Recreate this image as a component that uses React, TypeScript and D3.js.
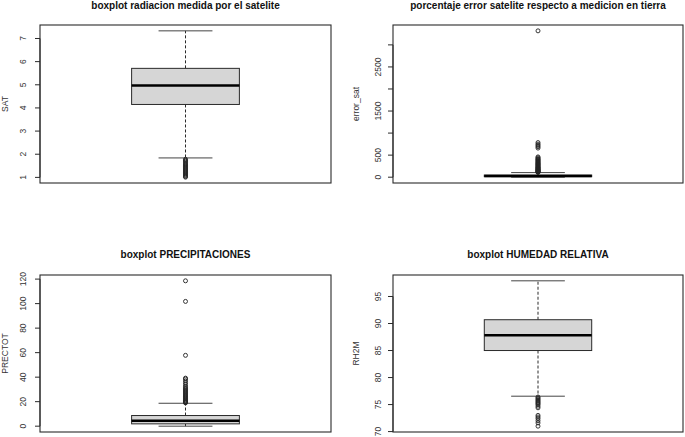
import React from "react";
import * as d3 from "d3";

// ---- data ----
// stats: [lower whisker, Q1, median, Q3, upper whisker]
const titles = [
  "boxplot radiacion medida por el satelite",
  "porcentaje error satelite respecto a medicion en tierra",
  "boxplot PRECIPITACIONES",
  "boxplot HUMEDAD RELATIVA",
];
const yLabels = ["SAT", "error_sat", "PRECTOT", "RH2M"];

const satStats = [1.84, 4.15, 4.97, 5.71, 7.33];
const satOutliers = [1.78, 1.74, 1.7, 1.65, 1.6, 1.56, 1.52, 1.48, 1.44, 1.4, 1.36, 1.32, 1.28, 1.24, 1.2, 1.16, 1.12, 1.08, 1.04, 1.01];
const satTicks = [1, 2, 3, 4, 5, 6, 7];
const satTickLabels = ["1", "2", "3", "4", "5", "6", "7"];

const errStats = [1, 12, 28, 48, 104];
const errOutliers = [108, 115, 122, 130, 138, 146, 155, 164, 172, 180, 190, 200, 210, 220, 230, 242, 255, 268, 280, 292, 305, 318, 330, 345, 360, 375, 390, 405, 420, 440, 460, 660, 690, 720, 750, 785, 3318];
const errTicks = [0, 500, 1000, 1500, 2000, 2500, 3000];
const errTickLabels = ["0", "500", "", "1500", "", "2500", ""];

const preStats = [0, 1.9, 4.4, 8.7, 18.7];
const preOutliers = [19, 19.5, 20, 20.6, 21.2, 22, 22.8, 23.5, 24.3, 25, 25.8, 26.6, 27.4, 28.2, 29, 29.8, 30.6, 31.5, 32.5, 34, 35.5, 37, 38.5, 39.2, 57.8, 101.8, 118.6];
const preTicks = [0, 20, 40, 60, 80, 100, 120];
const preTickLabels = ["0", "20", "40", "60", "80", "100", "120"];

const rhStats = [76.55, 85.0, 87.85, 90.7, 97.9];
const rhOutliers = [76.4, 76.2, 76.0, 75.8, 75.6, 75.4, 75.2, 75.0, 74.7, 74.4, 73.0, 72.7, 72.4, 72.0, 71.6, 71.0];
const rhTicks = [70, 75, 80, 85, 90, 95];
const rhTickLabels = ["70", "75", "80", "85", "90", "95"];

const allStats = [satStats, errStats, preStats, rhStats];
const allOutliers = [satOutliers, errOutliers, preOutliers, rhOutliers];
const allTicks = [satTicks, errTicks, preTicks, rhTicks];
const allTickLabels = [satTickLabels, errTickLabels, preTickLabels, rhTickLabels];

// ---- layout ----
const W = 685;
const H = 437;
const colsX = [[40, 331], [393, 683]];
const rowsY = [[25, 183], [275, 432]];
const titleY = [8.5, 258];
const labelX = [5, 356];
const tickLabelX = [23, 378.5];
const FONT = "'Liberation Sans', Arial, Helvetica, sans-serif";

function Panel({ i }: { i: number }) {
  const col = i % 2;
  const row = Math.floor(i / 2);
  const [x0, x1] = colsX[col];
  const [y0, y1] = rowsY[row];
  const stats = allStats[i];
  const outs = allOutliers[i];
  const ticks = allTicks[i];
  const tickLabels = allTickLabels[i];

  const ext = d3.extent([...stats, ...outs]) as [number, number];
  const pad = (ext[1] - ext[0]) * 0.04;
  const y = d3.scaleLinear().domain([ext[0] - pad, ext[1] + pad]).range([y1, y0]);
  const x = d3.scaleLinear().domain([0.46, 1.54]).range([x0, x1]);

  const [lw, q1, med, q3, uw] = stats;
  const cx = x(1);
  const stroke = "#2a2a2a";

  return (
    <g>
      <text
        x={(x0 + x1) / 2}
        y={titleY[row]}
        textAnchor="middle"
        fontFamily={FONT}
        fontWeight="bold"
        fontSize={10}
        fill="#111"
      >
        {titles[i]}
      </text>
      {/* y axis label */}
      <text
        transform={`translate(${labelX[col]},${(y0 + y1) / 2}) rotate(-90)`}
        dy="0.35em"
        textAnchor="middle"
        fontFamily={FONT}
        fontSize={8.5}
        fill="#333"
      >
        {yLabels[i]}
      </text>
      {/* axis */}
      <line
        x1={x0}
        x2={x0}
        y1={y(ticks[0])}
        y2={y(ticks[ticks.length - 1])}
        stroke={stroke}
        strokeWidth={1}
      />
      {ticks.map((t, k) => (
        <g key={k}>
          <line x1={x0 - 5} x2={x0} y1={y(t)} y2={y(t)} stroke={stroke} strokeWidth={1} />
          {tickLabels[k] !== "" && (
            <text
              transform={`translate(${tickLabelX[col]},${y(t)}) rotate(-90)`}
              dy="0.35em"
              textAnchor="middle"
              fontFamily={FONT}
              fontSize={8.5}
              fill="#333"
            >
              {tickLabels[k]}
            </text>
          )}
        </g>
      ))}
      {/* whiskers */}
      <line x1={cx} x2={cx} y1={y(q3)} y2={y(uw)} stroke={stroke} strokeWidth={1} strokeDasharray="3,2" />
      <line x1={cx} x2={cx} y1={y(q1)} y2={y(lw)} stroke={stroke} strokeWidth={1} strokeDasharray="3,2" />
      <line x1={x(0.9)} x2={x(1.1)} y1={y(uw)} y2={y(uw)} stroke="#444" strokeWidth={1} />
      <line x1={x(0.9)} x2={x(1.1)} y1={y(lw)} y2={y(lw)} stroke="#444" strokeWidth={1} />
      {/* box */}
      <rect
        x={x(0.8)}
        y={y(q3)}
        width={x(1.2) - x(0.8)}
        height={Math.max(0.5, y(q1) - y(q3))}
        fill="#d6d6d6"
        stroke={stroke}
        strokeWidth={1}
      />
      <line x1={x(0.8)} x2={x(1.2)} y1={y(med)} y2={y(med)} stroke="#000" strokeWidth={2.5} />
      {/* outliers */}
      {outs.map((v, k) => (
        <circle key={k} cx={cx} cy={y(v)} r={2} fill="none" stroke="#222" strokeWidth={0.9} />
      ))}
      {/* frame */}
      <rect x={x0} y={y0} width={x1 - x0} height={y1 - y0} fill="none" stroke={stroke} strokeWidth={1.1} />
    </g>
  );
}

export default function App() {
  return (
    <svg
      width={W}
      height={H}
      viewBox={`0 0 ${W} ${H}`}
      style={{ position: "absolute", left: 0, top: 0, background: "#fff" }}
    >
      <rect x={0} y={0} width={W} height={H} fill="#fff" />
      {[0, 1, 2, 3].map((i) => (
        <Panel key={i} i={i} />
      ))}
    </svg>
  );
}
